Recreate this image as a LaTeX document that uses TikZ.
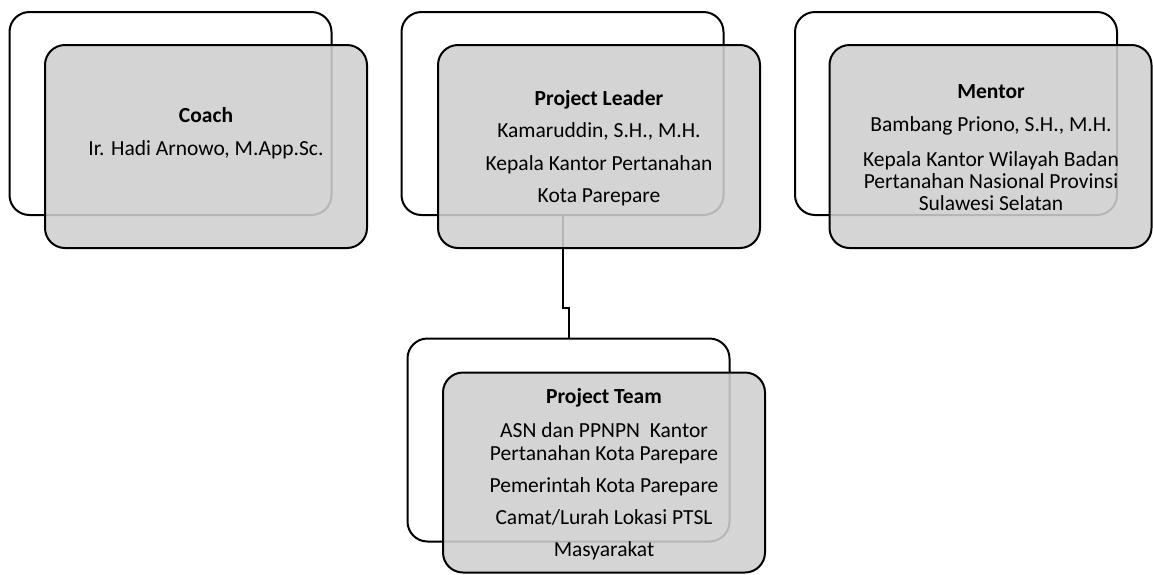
\documentclass[tikz,border=0pt]{standalone}
\usepackage{fontspec}
\setmainfont{Carlito}
\begin{document}
\begin{tikzpicture}[x=1pt,y=-1pt,
  backbox/.style={draw=black,line width=2pt,rounded corners=20pt,minimum width=322pt,minimum height=203pt,inner sep=0pt,fill=white},
  frontbox/.style={draw=black,line width=2pt,rounded corners=20pt,minimum width=322pt,minimum height=203pt,inner sep=0pt,fill=black!19,fill opacity=0.88,draw opacity=1},
  txt/.style={anchor=base,inner sep=0pt,font=\fontsize{21.5}{22}\selectfont},
  ttl/.style={txt,font=\fontsize{21.5}{22}\selectfont\bfseries},
  link/.style={draw=black,line width=2pt}]
\useasboundingbox (0,0) rectangle (1153,574);
% back boxes
\node[backbox] (coachB) at (170.5,113.5) {};
\node[backbox] (leadB) at (562.5,113.5) {};
\node[backbox] (mentB) at (956,113.5) {};
\node[backbox] (teamB) at (568.5,440) {};
% connector
\coordinate (j1) at (leadB.south |- 0,308);
\coordinate (j2) at (teamB.north |- 0,308);
\draw[link] (leadB.south) -- (j1) -- (j2) -- (teamB.north);
% front boxes
\node[frontbox] (coachF) at (206,146.5) {};
\node[frontbox] (leadF) at (599,146.5) {};
\node[frontbox] (mentF) at (990.5,146.5) {};
\node[frontbox,minimum height=200pt] (teamF) at (604,472.5) {};
% texts
\node[ttl] (c1) at (206,122) {Coach};
\node[txt] (c2) at (206,155) {Ir. Hadi Arnowo, M.App.Sc.};
\node[ttl] (l1) at (599,105) {Project Leader};
\node[txt] (l2) at (599,137) {Kamaruddin, S.H., M.H.};
\node[txt] (l3) at (599,170) {Kepala Kantor Pertanahan};
\node[txt] (l4) at (599,202) {Kota Parepare};
\node[ttl] (m1) at (991,98) {Mentor};
\node[txt] (m2) at (991,131) {Bambang Priono, S.H., M.H.};
\node[txt] (m3) at (991,166) {Kepala Kantor Wilayah Badan};
\node[txt] (m4) at (991,188) {Pertanahan Nasional Provinsi};
\node[txt] (m5) at (991,210) {Sulawesi Selatan};
\node[ttl] (t1) at (604,403) {Project Team};
\node[txt] (t2) at (604,437) {ASN dan PPNPN\ \ Kantor};
\node[txt] (t3) at (604,460) {Pertanahan Kota Parepare};
\node[txt] (t4) at (604,492) {Pemerintah Kota Parepare};
\node[txt] (t5) at (604,524) {Camat/Lurah Lokasi PTSL};
\node[txt] (t6) at (604,556) {Masyarakat};
\end{tikzpicture}
\end{document}
